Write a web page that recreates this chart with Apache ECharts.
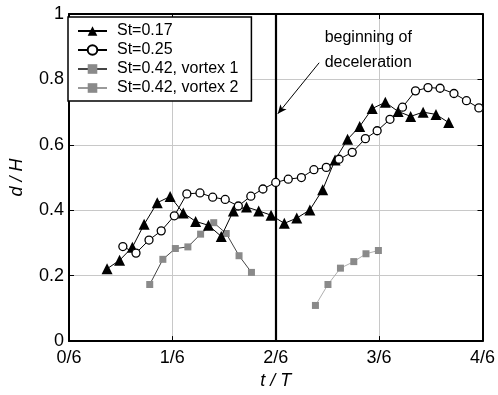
<!DOCTYPE html>
<html>
<head>
<meta charset="utf-8">
<script src="https://cdn.jsdelivr.net/npm/echarts@6/dist/echarts.min.js"></script>
<style>
  html, body { margin: 0; padding: 0; background: #fff; }
  #chart { width: 498px; height: 395px; }
</style>
</head>
<body>
<div id="chart"></div>
<script>
// Time is measured in sixths of the period T (axis label "n/6").
const xTicks = ['0/6', '1/6', '2/6', '3/6', '4/6'];

// St = 0.17
const st017X = [0.368, 0.489, 0.613, 0.727, 0.854, 0.978, 1.105, 1.225, 1.349, 1.473, 1.590, 1.717, 1.835, 1.955,
                2.083, 2.203, 2.330, 2.454, 2.574, 2.695, 2.812, 2.933, 3.060, 3.184, 3.305, 3.426, 3.550, 3.673];
const st017Y = [0.221, 0.247, 0.287, 0.357, 0.423, 0.442, 0.392, 0.366, 0.354, 0.320, 0.398, 0.410, 0.398, 0.385,
                0.360, 0.376, 0.401, 0.463, 0.554, 0.617, 0.656, 0.711, 0.730, 0.702, 0.687, 0.700, 0.693, 0.668];

// St = 0.25
const st025X = [0.521, 0.648, 0.774, 0.892, 1.019, 1.140, 1.267, 1.390, 1.511, 1.638, 1.759, 1.876, 2.000, 2.121,
                2.248, 2.369, 2.489, 2.612, 2.740, 2.867, 2.981, 3.105, 3.226, 3.352, 3.473, 3.590, 3.724, 3.845, 3.965];
const st025Y = [0.289, 0.269, 0.309, 0.337, 0.383, 0.450, 0.453, 0.440, 0.433, 0.413, 0.443, 0.465, 0.485, 0.495,
                0.500, 0.524, 0.531, 0.556, 0.577, 0.619, 0.643, 0.678, 0.715, 0.765, 0.775, 0.773, 0.757, 0.735, 0.713];

// St = 0.42, vortex 1
const v1X = [0.781, 0.908, 1.029, 1.150, 1.273, 1.400, 1.521, 1.645, 1.765];
const v1Y = [0.173, 0.250, 0.283, 0.288, 0.327, 0.362, 0.329, 0.261, 0.210];

// St = 0.42, vortex 2
const v2X = [2.384, 2.505, 2.626, 2.755, 2.873, 2.993];
const v2Y = [0.109, 0.173, 0.223, 0.243, 0.267, 0.277];

// Start of the deceleration phase and its note
const decelT = 2;
const noteText = 'beginning of\ndeceleration';
const noteAt = [2.895, 0.891];
const arrowFrom = [2.42, 0.851];
const arrowTo = [2.02, 0.695];

const zip = (xs, ys) => xs.map((x, i) => [x, ys[i]]);
const FONT = 'Liberation Sans, Arial, sans-serif';

const chart = echarts.init(document.getElementById('chart'), null, { renderer: 'canvas' });

const axisCommon = {
  type: 'value',
  axisLine: { show: true, onZero: false, lineStyle: { color: '#000', width: 2 } },
  axisTick: { show: true, inside: true, length: 5, lineStyle: { color: '#000', width: 1 } },
};

chart.setOption({
  animation: false,
  backgroundColor: '#fff',
  grid: { left: 63, right: 15, top: 14, bottom: 50, containLabel: false },
  xAxis: [
    Object.assign({}, axisCommon, {
      min: 0, max: 4, interval: 1, position: 'bottom',
      name: 't / T', nameLocation: 'middle', nameGap: 28,
      nameTextStyle: { fontFamily: FONT, fontSize: 18, fontStyle: 'italic', color: '#000' },
      axisLabel: { fontFamily: FONT, fontSize: 18, color: '#000', margin: 8,
                   formatter: v => xTicks[Math.round(v)] },
      splitLine: { show: true, lineStyle: { color: '#c8c8c8', width: 1 } },
    }),
    Object.assign({}, axisCommon, {
      min: 0, max: 4, interval: 1, position: 'top',
      axisLabel: { show: false }, splitLine: { show: false },
    }),
  ],
  yAxis: [
    Object.assign({}, axisCommon, {
      min: 0, max: 1, interval: 0.2, position: 'left',
      name: 'd / H', nameLocation: 'middle', nameGap: 43, nameRotate: 90,
      nameTextStyle: { fontFamily: FONT, fontSize: 18, fontStyle: 'italic', color: '#000' },
      axisLabel: { fontFamily: FONT, fontSize: 18, color: '#000', margin: 5 },
      splitLine: { show: true, lineStyle: { color: '#c8c8c8', width: 1 } },
    }),
    Object.assign({}, axisCommon, {
      min: 0, max: 1, interval: 0.2, position: 'right',
      axisLabel: { show: false }, splitLine: { show: false },
    }),
  ],
  legend: {
    orient: 'vertical',
    left: 68, top: 17,
    padding: [6, 13, 5, 9],
    itemWidth: 29, itemHeight: 12, itemGap: 3,
    backgroundColor: '#fff',
    borderColor: '#000', borderWidth: 1.5, borderRadius: 0,
    textStyle: { fontFamily: FONT, fontSize: 16, color: '#000', lineHeight: 16, padding: [0, 0, 0, 5] },
    data: ['St=0.17', 'St=0.25', 'St=0.42, vortex 1', 'St=0.42, vortex 2'],
  },
  series: [
    {
      name: 'St=0.17', type: 'line', data: zip(st017X, st017Y),
      symbol: 'triangle', symbolSize: 11,
      lineStyle: { color: '#000', width: 1 },
      itemStyle: { color: '#000' },
      z: 4,
    },
    {
      name: 'St=0.25', type: 'line', data: zip(st025X, st025Y),
      symbol: 'circle', symbolSize: 8,
      lineStyle: { color: '#000', width: 1 },
      itemStyle: { color: '#fff', borderColor: '#000', borderWidth: 1.3 },
      z: 5,
    },
    {
      name: 'St=0.42, vortex 1', type: 'line', data: zip(v1X, v1Y),
      symbol: 'rect', symbolSize: 7,
      lineStyle: { color: '#444', width: 1 },
      itemStyle: { color: '#8a8a8a' },
      z: 3,
    },
    {
      name: 'St=0.42, vortex 2', type: 'line', data: zip(v2X, v2Y),
      symbol: 'rect', symbolSize: 7,
      lineStyle: { color: '#9a9a9a', width: 0.8 },
      itemStyle: { color: '#8a8a8a' },
      z: 3,
    },
    {
      name: 'deceleration', type: 'line', data: [], silent: true, z: 6,
      markLine: {
        silent: true, animation: false,
        label: { show: false },
        data: [
          [
            { coord: [decelT, 0], symbol: 'none', lineStyle: { color: '#000', width: 2.2, type: 'solid' } },
            { coord: [decelT, 1], symbol: 'none' },
          ],
          [
            { coord: arrowFrom, symbol: 'none', lineStyle: { color: '#000', width: 1, type: 'solid' } },
            { coord: arrowTo, symbol: 'arrow', symbolSize: [6, 9] },
          ],
        ],
      },
      markPoint: {
        silent: true,
        symbol: 'circle', symbolSize: 0,
        data: [{ coord: noteAt, value: 0 }],
        label: {
          show: true, position: 'inside', formatter: noteText,
          fontFamily: FONT, fontSize: 16, lineHeight: 25, color: '#000', align: 'center',
        },
      },
    },
  ],
});
</script>
</body>
</html>
